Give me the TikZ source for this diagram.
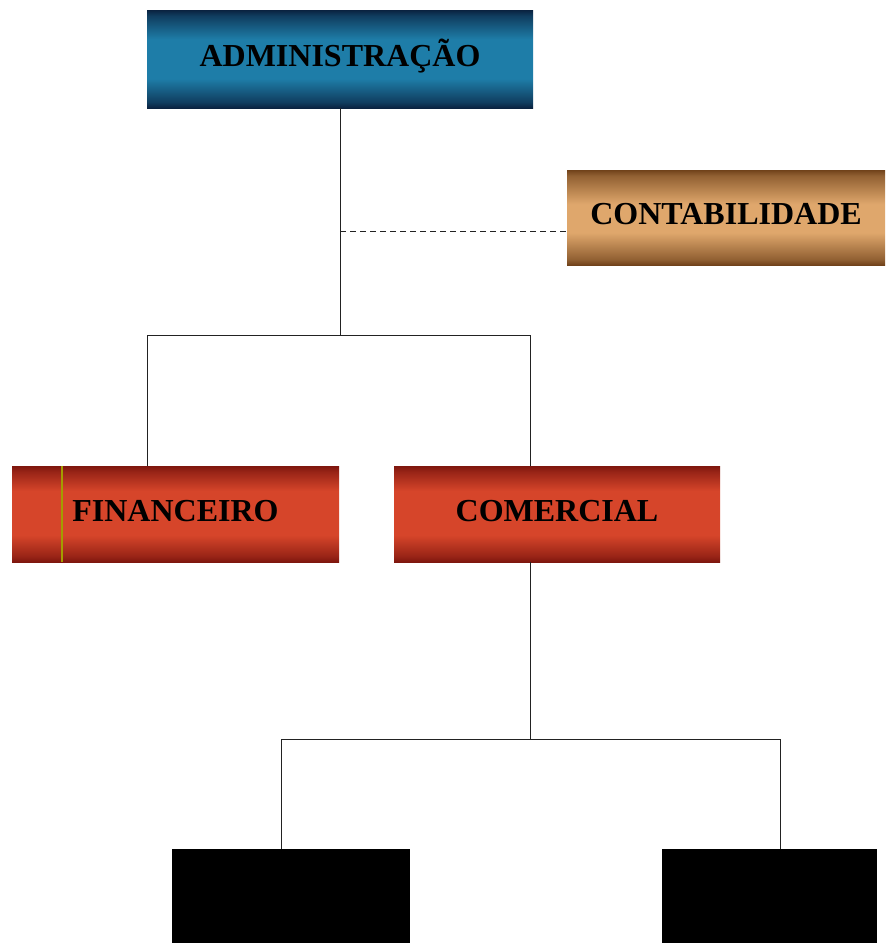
\documentclass[tikz,border=0pt]{standalone}
\usepackage{fontspec}
\setmainfont{Liberation Serif}
\definecolor{admtop}{HTML}{0A2240}
\definecolor{admmid}{HTML}{1E7DA8}
\definecolor{contop}{HTML}{70421A}
\definecolor{conmid}{HTML}{DFA76C}
\definecolor{redtop}{HTML}{7E160E}
\definecolor{redmid}{HTML}{D6452A}
\definecolor{linegray}{HTML}{222222}
\pgfdeclareverticalshading{admshade}{100bp}{color(0bp)=(admtop); color(25bp)=(admtop); color(28bp)=(admtop!70!admmid); color(40bp)=(admmid); color(60bp)=(admmid); color(72bp)=(admtop!70!admmid); color(75bp)=(admtop); color(100bp)=(admtop)}
\pgfdeclareverticalshading{conshade}{100bp}{color(0bp)=(contop); color(25bp)=(contop); color(28bp)=(contop!70!conmid); color(42bp)=(conmid); color(57bp)=(conmid); color(72bp)=(contop!70!conmid); color(75bp)=(contop); color(100bp)=(contop)}
\pgfdeclareverticalshading{redshade}{100bp}{color(0bp)=(redtop); color(25bp)=(redtop); color(28bp)=(redtop!70!redmid); color(39bp)=(redmid); color(62bp)=(redmid); color(72bp)=(redtop!70!redmid); color(75bp)=(redtop); color(100bp)=(redtop)}
\tikzset{
  box/.style={draw=none, inner sep=0pt, text height=22pt, text depth=8pt,
    font=\fontsize{32}{37}\selectfont\bfseries, text=black},
  bluebox/.style={box, shading=admshade},
  brownbox/.style={box, shading=conshade},
  redbox/.style={box, shading=redshade},
  blackbox/.style={draw=none, fill=black, inner sep=0pt},
  conn/.style={draw=linegray, line width=1pt},
  dashconn/.style={draw=linegray, line width=1pt, dash pattern=on 6pt off 4pt},
}
\begin{document}
\begin{tikzpicture}[x=1pt,y=-1pt]
\useasboundingbox[fill=white] (0,0) rectangle (886,943);
\node[bluebox, minimum width=386pt, minimum height=98pt] (adm) at (340,59) {ADMINISTRAÇÃO};
\node[brownbox, minimum width=318pt, minimum height=95pt] (con) at (726,217.5) {CONTABILIDADE};
\node[redbox, minimum width=327pt, minimum height=96pt] (fin) at (175.5,514) {FINANCEIRO};
\node[redbox, minimum width=326pt, minimum height=96pt] (com) at (557,514) {COMERCIAL};
\node[blackbox, minimum width=238pt, minimum height=94pt] (bl) at (291,896) {};
\node[blackbox, minimum width=215pt, minimum height=94pt] (br) at (769.5,896) {};
% thin stripe on FINANCEIRO
\draw[draw=olive!80!yellow, line width=1.2pt] ([xshift=-113.5pt]fin.north) -- ([xshift=-113.5pt]fin.south);
% connectors
\coordinate (j1) at (340,335);
\coordinate (jd) at (340,231);
\coordinate (j2) at (530,739);
\draw[conn] (adm.south) -- (j1);
\draw[dashconn] (jd) -- ([yshift=-13.5pt]con.west);
\draw[conn] (j1) -| ([xshift=-28.5pt]fin.north);
\draw[conn] (j1) -| ([xshift=-27pt]com.north);
\draw[conn] ([xshift=-27pt]com.south) -- (j2);
\draw[conn] (j2) -| ([xshift=-10pt]bl.north);
\draw[conn] (j2) -| ([xshift=10.5pt]br.north);
\end{tikzpicture}
\end{document}
